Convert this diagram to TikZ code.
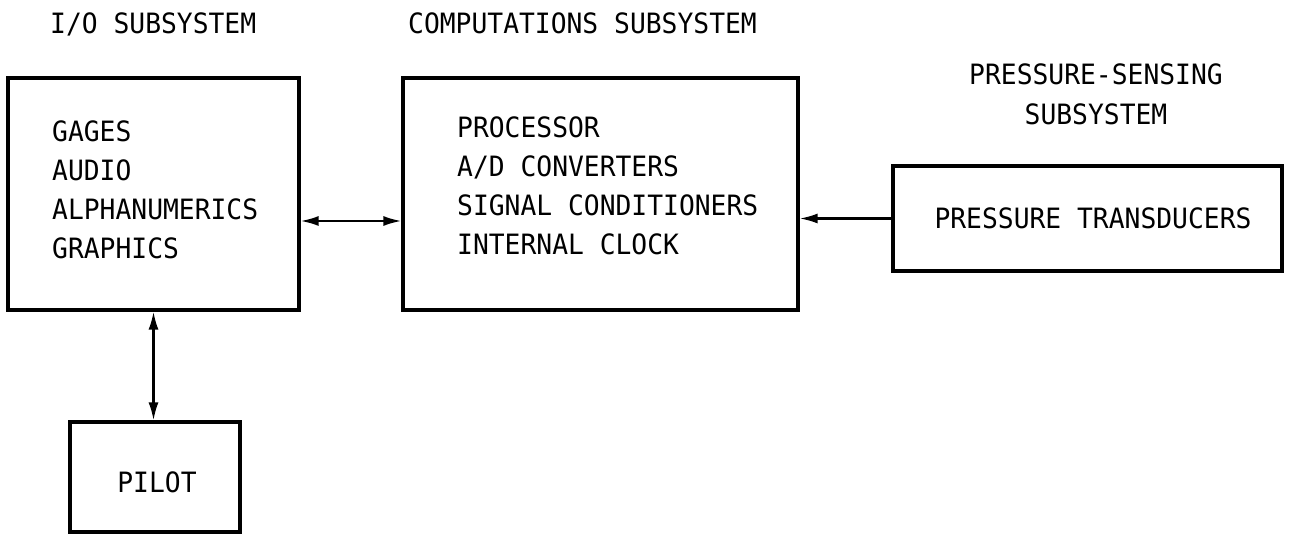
\documentclass[tikz,border=0pt]{standalone}
\usepackage{fontspec}
\newfontfamily\lblfont[FakeStretch=0.94]{DejaVu Sans Mono}
\usetikzlibrary{arrows.meta}
\tikzset{
  box/.style={draw, line width=3.2pt, inner sep=0pt},
  lbl/.style={font=\lblfont\fontsize{28}{30}\selectfont, inner sep=0pt, anchor=base west},
  clbl/.style={font=\lblfont\fontsize{28}{30}\selectfont, inner sep=0pt, anchor=base},
  conn/.style={line width=2.2pt, {Latex[length=18pt,width=10pt]}-{Latex[length=18pt,width=10pt]}},
  conn1/.style={line width=2.2pt, -{Latex[length=18pt,width=10pt]}}
}
\begin{document}
\begin{tikzpicture}[x=1pt,y=-1pt]
\useasboundingbox (0,0) rectangle (1291,534);
% boxes
\node[box, minimum width=291pt, minimum height=232pt] (io) at (153.5,194) {};
\node[box, minimum width=395pt, minimum height=232pt] (comp) at (600.5,194) {};
\node[box, minimum width=389pt, minimum height=105pt] (pr) at (1087.5,218.5) {};
\node[box, minimum width=170pt, minimum height=110pt] (pilot) at (155,477) {};
% titles
\node[lbl] (t1) at (50,34) {I/O SUBSYSTEM};
\node[lbl] (t2) at (408,34) {COMPUTATIONS SUBSYSTEM};
\node[clbl] (t3) at (1096,85) {PRESSURE-SENSING};
\node[clbl] (t4) at (1096,125) {SUBSYSTEM};
% io text
\node[lbl] (g1) at (52,142) {GAGES};
\node[lbl] (g2) at (52,181) {AUDIO};
\node[lbl] (g3) at (52,220) {ALPHANUMERICS};
\node[lbl] (g4) at (52,259) {GRAPHICS};
% comp text
\node[lbl] (c1) at (457,138) {PROCESSOR};
\node[lbl] (c2) at (457,177) {A/D CONVERTERS};
\node[lbl] (c3) at (457,216) {SIGNAL CONDITIONERS};
\node[lbl] (c4) at (457,255) {INTERNAL CLOCK};
% pressure text
\node[clbl] (p1) at (1093,229) {PRESSURE TRANSDUCERS};
% pilot text
\node[clbl] (pl) at (157,493) {PILOT};
% connectors
\draw[conn] ([yshift=-27pt]io.east) -- ([yshift=-27pt]io.east -| comp.west);
\draw[conn1] (pr.west) -- (pr.west -| comp.east);
\draw[conn] (io.south) -- (io.south |- pilot.north);
\end{tikzpicture}
\end{document}
